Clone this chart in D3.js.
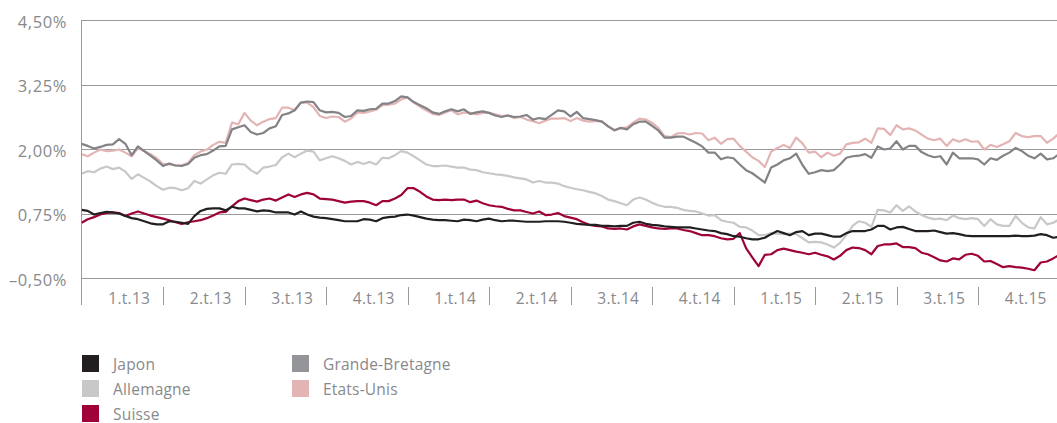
<!DOCTYPE html>
<html>
<head>
<meta charset="utf-8">
<script src="https://cdn.jsdelivr.net/npm/d3@7"></script>
<style>
  body { margin: 0; background: #fff; }
  svg text { font-family: "Open Sans", "Noto Sans", sans-serif; fill: #88898c; }
</style>
</head>
<body>
<svg id="chart" width="1057" height="423"></svg>
<script>
// weekly yields, Jan 2013 -> Dec 2015 (157 points)
const japon = [
  0.82,0.80,0.73,0.76,0.78,0.77,0.75,0.70,0.66,0.64,0.60,0.56,0.54,0.54,0.60,0.59,0.57,0.55,0.70,0.80,0.84,0.85,0.85,0.81,0.88,0.85,0.85,
  0.82,0.79,0.81,0.80,0.77,0.77,0.77,0.73,0.79,0.73,0.69,0.67,0.66,0.64,0.62,0.60,0.60,0.60,0.64,0.63,0.60,0.66,0.68,0.69,0.72,0.73,0.71,
  0.68,0.65,0.63,0.62,0.62,0.61,0.60,0.63,0.62,0.60,0.63,0.65,0.62,0.60,0.61,0.61,0.60,0.59,0.59,0.59,0.60,0.60,0.60,0.59,0.57,0.55,
  0.54,0.53,0.53,0.51,0.51,0.50,0.51,0.51,0.57,0.59,0.55,0.53,0.52,0.50,0.49,0.48,0.48,0.48,0.46,0.44,0.42,0.41,0.37,0.35,0.31,0.30,0.27,
  0.25,0.25,0.28,0.35,0.41,0.37,0.33,0.39,0.41,0.33,0.36,0.36,0.33,0.30,0.30,0.37,0.41,0.41,0.41,0.44,0.51,0.51,0.44,0.48,0.49,0.45,
  0.41,0.41,0.41,0.42,0.39,0.36,0.37,0.35,0.32,0.31,0.31,0.31,0.31,0.31,0.31,0.31,0.32,0.31,0.31,0.32,0.35,0.33,0.28,0.30
];
const allemagne = [
  1.52,1.57,1.55,1.62,1.66,1.61,1.64,1.56,1.42,1.51,1.44,1.37,1.28,1.21,1.25,1.24,1.20,1.24,1.38,1.33,1.41,1.49,1.54,1.52,1.70,1.71,1.70,
  1.59,1.52,1.64,1.66,1.69,1.84,1.91,1.84,1.91,1.97,1.95,1.78,1.82,1.86,1.82,1.77,1.70,1.75,1.71,1.75,1.70,1.83,1.82,1.88,1.96,1.93,1.86,
  1.78,1.70,1.67,1.67,1.68,1.66,1.64,1.64,1.60,1.59,1.55,1.53,1.51,1.50,1.48,1.45,1.43,1.41,1.35,1.38,1.35,1.35,1.33,1.28,1.25,1.22,
  1.20,1.17,1.14,1.09,1.02,0.99,0.95,0.91,1.02,1.06,1.02,0.96,0.91,0.88,0.88,0.86,0.82,0.80,0.79,0.75,0.71,0.72,0.62,0.59,0.57,0.49,0.48,
  0.42,0.33,0.33,0.37,0.36,0.35,0.36,0.35,0.27,0.19,0.20,0.19,0.15,0.09,0.18,0.33,0.51,0.60,0.57,0.49,0.82,0.81,0.77,0.91,0.80,0.89,
  0.79,0.72,0.67,0.64,0.65,0.62,0.71,0.66,0.64,0.66,0.64,0.51,0.64,0.54,0.51,0.51,0.70,0.57,0.48,0.46,0.68,0.54,0.57,0.64
];
const suisse = [
  0.57,0.64,0.68,0.73,0.76,0.77,0.76,0.70,0.75,0.79,0.75,0.71,0.68,0.65,0.62,0.58,0.55,0.58,0.60,0.62,0.66,0.71,0.77,0.78,0.89,0.99,1.04,
  1.01,0.98,1.02,1.04,1.00,1.06,1.12,1.07,1.12,1.15,1.12,1.04,1.03,1.02,0.99,0.96,0.98,0.99,0.99,0.96,0.91,0.99,0.99,1.04,1.11,1.24,1.24,
  1.17,1.08,1.02,1.01,1.02,1.01,1.02,1.02,0.97,1.00,0.95,0.91,0.89,0.88,0.84,0.81,0.81,0.78,0.75,0.79,0.72,0.73,0.76,0.70,0.67,0.64,
  0.58,0.53,0.51,0.50,0.46,0.45,0.46,0.44,0.50,0.54,0.51,0.48,0.46,0.45,0.46,0.46,0.43,0.41,0.37,0.33,0.33,0.31,0.27,0.25,0.26,0.37,0.08,
  -0.10,-0.27,-0.05,-0.04,0.04,0.07,0.04,0.01,-0.01,-0.04,-0.01,-0.05,-0.08,-0.14,-0.07,0.04,0.09,0.08,0.04,-0.04,0.12,0.15,0.15,0.17,0.10,0.10,
  0.08,-0.01,-0.04,-0.10,-0.16,-0.18,-0.12,-0.14,-0.05,-0.03,-0.07,-0.18,-0.17,-0.23,-0.29,-0.27,-0.29,-0.30,-0.32,-0.35,-0.20,-0.18,-0.12,-0.05
];
const grandeBretagne = [
  2.10,2.06,2.01,2.04,2.08,2.09,2.19,2.10,1.88,2.05,1.96,1.87,1.78,1.67,1.72,1.68,1.67,1.71,1.83,1.88,1.90,1.97,2.05,2.06,2.38,2.42,2.46,
  2.33,2.28,2.31,2.40,2.44,2.66,2.69,2.75,2.90,2.92,2.91,2.75,2.71,2.72,2.70,2.62,2.64,2.75,2.74,2.77,2.78,2.88,2.88,2.93,3.02,3.00,2.91,
  2.85,2.79,2.71,2.68,2.73,2.77,2.73,2.77,2.68,2.71,2.73,2.70,2.65,2.62,2.65,2.62,2.63,2.66,2.57,2.60,2.58,2.66,2.75,2.73,2.63,2.72,
  2.60,2.58,2.56,2.53,2.44,2.36,2.41,2.38,2.48,2.53,2.53,2.45,2.36,2.22,2.22,2.24,2.24,2.18,2.12,2.05,1.93,1.93,1.80,1.84,1.82,1.70,1.59,
  1.53,1.44,1.35,1.64,1.70,1.78,1.82,1.91,1.69,1.52,1.55,1.59,1.57,1.59,1.70,1.83,1.86,1.87,1.90,1.83,2.05,1.99,2.01,2.15,1.99,2.06,
  2.06,1.94,1.88,1.84,1.86,1.70,1.93,1.82,1.82,1.82,1.80,1.70,1.82,1.79,1.87,1.93,2.02,1.96,1.87,1.82,1.91,1.80,1.82,1.91
];
const etatsUnis = [
  1.90,1.86,1.93,1.99,1.96,1.97,1.99,1.93,1.86,2.02,1.96,1.90,1.82,1.71,1.70,1.68,1.69,1.73,1.88,1.95,1.99,2.08,2.14,2.12,2.51,2.48,2.70,
  2.55,2.46,2.53,2.58,2.60,2.80,2.80,2.75,2.90,2.90,2.81,2.64,2.60,2.63,2.62,2.53,2.59,2.71,2.70,2.73,2.76,2.85,2.86,2.88,2.96,3.00,2.90,
  2.82,2.75,2.68,2.66,2.71,2.75,2.67,2.71,2.70,2.67,2.70,2.70,2.67,2.64,2.65,2.60,2.62,2.57,2.54,2.50,2.55,2.59,2.59,2.60,2.54,2.60,
  2.55,2.53,2.54,2.54,2.44,2.37,2.40,2.42,2.51,2.59,2.57,2.51,2.41,2.25,2.23,2.30,2.31,2.28,2.31,2.30,2.17,2.22,2.10,2.19,2.20,2.06,1.95,
  1.84,1.77,1.65,1.95,2.02,2.08,2.02,2.22,2.11,1.93,1.95,1.84,1.93,1.87,1.91,2.09,2.12,2.13,2.20,2.12,2.40,2.39,2.27,2.46,2.38,2.40,
  2.36,2.28,2.20,2.17,2.20,2.06,2.19,2.14,2.19,2.14,2.15,1.99,2.08,2.04,2.09,2.15,2.31,2.25,2.23,2.25,2.25,2.12,2.20,2.31
];

const quarters = ["1.t.13","2.t.13","3.t.13","4.t.13","1.t.14","2.t.14","3.t.14","4.t.14","1.t.15","2.t.15","3.t.15","4.t.15"];
const yTicks = [-0.5, 0.75, 2.0, 3.25, 4.5];

const series = [
  { name: "Allemagne",       values: allemagne,      colour: "#c8c8c9" },
  { name: "Etats-Unis",      values: etatsUnis,      colour: "#e3b4b4" },
  { name: "Grande-Bretagne", values: grandeBretagne, colour: "#838387" },
  { name: "Suisse",          values: suisse,         colour: "#9e0239" },
  { name: "Japon",           values: japon,          colour: "#231f20" }
];
const legendOrder = [
  ["Japon", "Allemagne", "Suisse"],
  ["Grande-Bretagne", "Etats-Unis"]
];
const swatchColours = { "Grande-Bretagne": "#939598" };

const svg = d3.select("#chart");
const plotLeft = 81.5, plotRight = 1059.5, plotTop = 20, plotBottom = 278;

const x = d3.scaleLinear().domain([0, japon.length - 1]).range([plotLeft, plotRight]);
const y = d3.scaleLinear().domain([-0.5, 4.5]).range([plotBottom, plotTop]);
const qScale = d3.scaleBand().domain(quarters).range([plotLeft, plotRight]);

const fmt = v => (v < 0 ? "\u2013" : "") + d3.format(".2f")(Math.abs(v)).replace(".", ",") + "%";

// grid + y labels
svg.selectAll(".grid")
  .data(yTicks)
  .join("line")
  .attr("x1", plotLeft).attr("x2", 1057)
  .attr("y1", d => Math.round(y(d)) + 0.5).attr("y2", d => Math.round(y(d)) + 0.5)
  .attr("stroke", "#9a9a9d").attr("stroke-width", 1);

svg.selectAll(".ylab")
  .data(yTicks)
  .join("text")
  .attr("x", 67).attr("y", d => y(d) + 1)
  .attr("text-anchor", "end")
  .attr("dominant-baseline", "central")
  .attr("font-size", 16.5)
  .attr("letter-spacing", 0.6)
  .text(fmt);

// y axis line, runs down past the labels
svg.append("line")
  .attr("x1", plotLeft).attr("x2", plotLeft)
  .attr("y1", plotTop).attr("y2", 305)
  .attr("stroke", "#9a9a9d");

// quarter separators
svg.selectAll(".qsep")
  .data(quarters.slice(1))
  .join("line")
  .attr("x1", d => Math.round(qScale(d)) + 0.5).attr("x2", d => Math.round(qScale(d)) + 0.5)
  .attr("y1", 287).attr("y2", 305)
  .attr("stroke", "#9a9a9d");

svg.selectAll(".qlab")
  .data(quarters)
  .join("text")
  .attr("x", d => qScale(d) + qScale.bandwidth() / 2 + 7)
  .attr("y", 298)
  .attr("text-anchor", "middle")
  .attr("dominant-baseline", "central")
  .attr("font-size", 15.5)
  .attr("letter-spacing", 0.3)
  .text(d => d);

// lines
const line = d3.line().x((d, i) => x(i)).y(d => y(d));
svg.append("clipPath").attr("id", "plot-clip")
  .append("rect").attr("x", plotLeft).attr("y", 0).attr("width", 1057 - plotLeft).attr("height", 300);

svg.append("g").attr("clip-path", "url(#plot-clip)")
  .selectAll("path")
  .data(series)
  .join("path")
  .attr("fill", "none")
  .attr("stroke", s => s.colour)
  .attr("stroke-width", 2.2)
  .attr("stroke-linejoin", "round")
  .attr("d", s => line(s.values));

// legend
const colourOf = name => swatchColours[name] || series.find(s => s.name === name).colour;
legendOrder.forEach((col, ci) => {
  const g = svg.append("g").attr("transform", `translate(${ci === 0 ? 82 : 292}, 355)`);
  const items = g.selectAll("g").data(col).join("g")
    .attr("transform", (d, i) => `translate(0, ${i * 25})`);
  items.append("rect").attr("width", 17).attr("height", 17).attr("fill", colourOf);
  items.append("text")
    .attr("x", 31).attr("y", 8.5)
    .attr("dominant-baseline", "central")
    .attr("font-size", 15.5)
    .attr("letter-spacing", 0.2)
    .text(d => d);
});
</script>
</body>
</html>
